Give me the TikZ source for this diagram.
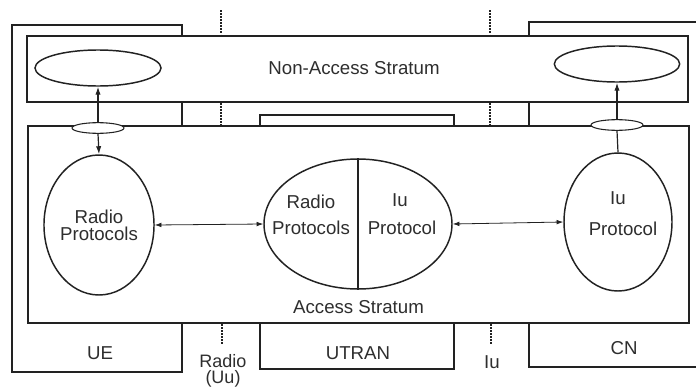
\documentclass[tikz,border=0pt]{standalone}
\usepackage{fontspec}
\setmainfont{Liberation Sans}
\usetikzlibrary{positioning, shapes.geometric, arrows.meta}
\definecolor{inkline}{HTML}{222222}
\definecolor{inktext}{HTML}{2E2E2E}

\begin{document}
\begin{tikzpicture}[x=0.75pt, y=-0.75pt,
          dom/.style={draw=inkline, line width=0.9pt, inner sep=0pt},
          stratum/.style={draw=inkline, fill=white, line width=0.9pt, inner sep=0pt},
          prot/.style={ellipse, draw=inkline, fill=white, line width=1.1pt, inner sep=0pt, align=center, text=inktext, font=\fontsize{14}{13}\selectfont},
          sap/.style={ellipse, draw=inkline, fill=white, line width=0.8pt, inner sep=0pt, minimum width=39pt, minimum height=8pt},
          lbl/.style={text=inktext, font=\fontsize{14}{15}\selectfont, inner sep=0pt, align=center},
          bound/.style={draw=inkline, line width=1.3pt, densely dotted},
          link/.style={draw=inkline, line width=0.6pt, {Latex[length=5pt,width=3.5pt]}-{Latex[length=5pt,width=3.5pt]}},
          up/.style={draw=inkline, line width=0.9pt, -{Latex[length=6pt,width=4pt]}}]
        \useasboundingbox[fill=white] (0,0) rectangle (696,389);
        % domains
        \node[dom, minimum width=127.5pt, minimum height=260.25pt] (ue) at (97,198.5) {};
        \node[dom, minimum width=145.5pt, minimum height=190.5pt] (utran) at (357,242) {};
        \node[dom, minimum width=143.25pt, minimum height=258.75pt] (cn) at (624.5,194.5) {};
        % boundaries
        \foreach \bx in {221, 490} {
          \draw[bound] (\bx,10) -- (\bx,35);
          \draw[bound] (\bx,103) -- (\bx,125);
          \draw[bound] (\bx+1,324) -- (\bx+1,345);
        }
        % strata
        \node[stratum, minimum width=495.75pt, minimum height=49.5pt] (nas) at (357.5,69) {};
        \node[stratum, minimum width=495.75pt, minimum height=147.75pt] (as) at (358.5,224.5) {};
        \node[lbl] at (354,68) {Non-Access Stratum};
        \node[lbl, above=7pt of as.south] {Access Stratum};
        % protocol entities
        \node[prot, minimum width=94.5pt, minimum height=27pt] (nasL) at (98,68) {};
        \node[prot, minimum width=94pt, minimum height=27pt] (nasR) at (617,64) {};
        \node[sap] (sapL) at (98,128) {};
        \node[sap] (sapR) at (617,125) {};
        \node[prot, minimum width=82.5pt, minimum height=105pt] (rpL) at (99,225) {Radio\\Protocols};
        \node[prot, minimum width=141pt, minimum height=97.5pt] (mid) at (358,224) {};
        \node[prot, minimum width=81pt, minimum height=103.5pt] (iu) at (618,222) {};
        \draw[inkline, line width=1.1pt] (mid.north) -- (mid.south);
        \node[lbl] at (311,202) {Radio};
        \node[lbl] at (311,228) {Protocols};
        \node[lbl] at (400,200) {Iu};
        \node[lbl] at (402,228) {Protocol};
        \node[lbl] at (618,198) {Iu};
        \node[lbl] at (623,229) {Protocol};
        % links
        \draw[up] (sapL.north) -- (nasL.south);
        \draw[up] (sapL.south) -- (rpL.north);
        \draw[up] (sapR.north) -- (nasR.south);
        \draw[inkline, line width=0.9pt] (iu.north) -- (sapR.south);
        \draw[link] (rpL.east) -- (mid.west);
        \draw[link] (mid.east) -- (iu.west);
        % labels
        \node[lbl] at (100,353) {UE};
        \node[lbl] at (358,353) {UTRAN};
        \node[lbl] at (624,348) {CN};
        \node[lbl, font=\fontsize{13.5}{12.5}\selectfont] (uu) at (223,371) {Radio\\(Uu)};
        \node[lbl] at (492,362) {Iu};
      \end{tikzpicture}
\end{document}
